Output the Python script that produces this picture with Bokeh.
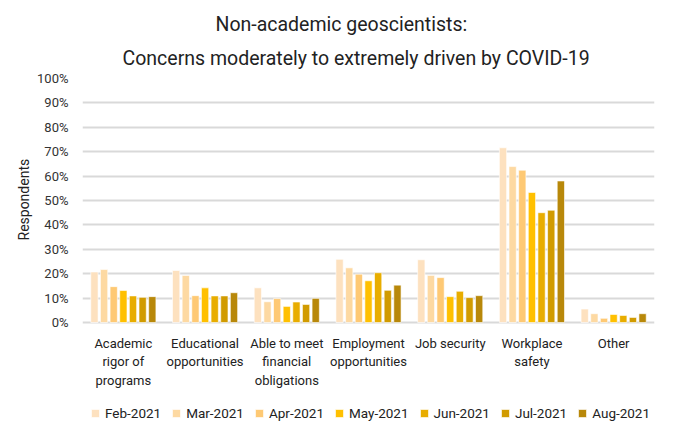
from bokeh.plotting import figure
from bokeh.models import Legend, LegendItem, Title, NumeralTickFormatter, FixedTicker, Range1d
from bokeh.core.properties import value
from bokeh.transform import dodge
from bokeh.embed import file_html
from bokeh.resources import INLINE

title_lines = ["Non-academic geoscientists:",
               "Concerns moderately to extremely driven by COVID-19"]
y_title = "Respondents"
categories = ["Academic rigor of programs", "Educational opportunities",
              "Able to meet financial obligations", "Employment opportunities",
              "Job security", "Workplace safety", "Other"]
category_labels = ["Academic\nrigor of\nprograms", "Educational\nopportunities",
                   "Able to meet\nfinancial\nobligations", "Employment\nopportunities",
                   "Job security", "Workplace\nsafety", "Other"]
months = ["Feb-2021", "Mar-2021", "Apr-2021", "May-2021", "Jun-2021", "Jul-2021", "Aug-2021"]
feb = [20.7, 21.3, 14.2, 25.9, 25.7, 71.6, 5.5]
mar = [21.7, 19.3, 8.5, 22.4, 19.3, 63.9, 3.6]
apr = [14.7, 11.0, 9.8, 19.8, 18.4, 62.4, 1.7]
may = [13.1, 14.2, 6.6, 17.1, 10.6, 53.3, 3.3]
jun = [10.9, 10.9, 8.4, 20.4, 12.8, 45.0, 2.9]
jul = [10.3, 10.9, 7.4, 13.2, 10.2, 46.0, 2.1]
aug = [10.6, 12.2, 9.9, 15.3, 11.0, 58.0, 3.6]
series = [feb, mar, apr, may, jun, jul, aug]
colors = ["#FDE1BF", "#FDD9A2", "#FEC974", "#FFC000", "#E8AD00", "#D19B00", "#B8880A"]

FONT = "Roboto"
PX = 1 / 244.0          # one pixel in y data units (0..100% spans 244px)
y_bottom = -101 * PX    # room below the axis for category labels and legend

p = figure(width=665, height=423, frame_width=572, frame_height=345,
           output_backend="svg", toolbar_location=None,
           x_range=Range1d(0, len(categories)), y_range=Range1d(y_bottom, 1))
p.min_border_left = 82
p.min_border_right = 11
p.min_border_top = 78
p.min_border_bottom = 0
p.outline_line_color = None

centers = [k + 0.5 for k in range(len(categories))]
data = {"x": centers, "label": category_labels}
for m, s in zip(months, series):
    data[m] = [v / 100 for v in s]

step = 0.118
items = []
for i, (m, c) in enumerate(zip(months, colors)):
    r = p.vbar(x=dodge("x", (i - 3) * step), top=m, width=0.089,
               source=data, fill_color=c, line_color="white", line_alpha=0.6, line_width=1)
    items.append(LegendItem(label=m, renderers=[r]))

# category labels below the 0% line
p.text(x="x", y=-13 * PX, text="label", source=data, text_align="center",
       text_baseline="top", text_font=value(FONT), text_font_size="13px",
       text_line_height=1.25, text_color="#222222")

p.title.text = title_lines[0]
p.title.align = "left"
p.title.offset = 133
p.title.standoff = 2
p.title.text_font = FONT
p.title.text_font_size = "19.5px"
p.title.text_font_style = "normal"
p.title.text_color = "#222222"
t2 = Title(text=title_lines[1], align="left", offset=40, standoff=17,
           text_font=FONT, text_font_size="19.5px", text_font_style="normal",
           text_color="#222222")
p.add_layout(t2, "above")

p.yaxis.ticker = FixedTicker(ticks=[i / 10 for i in range(11)])
p.yaxis.formatter = NumeralTickFormatter(format="0%")
p.yaxis.axis_line_color = None
p.yaxis.major_tick_line_color = None
p.yaxis.minor_tick_line_color = None
p.yaxis.major_tick_out = 0
p.yaxis.major_tick_in = 0
p.yaxis.major_label_standoff = 14
p.yaxis.major_label_text_font = FONT
p.yaxis.major_label_text_font_size = "13px"
p.yaxis.major_label_text_color = "#333333"

ty = Title(text=y_title, align="left", offset=183, standoff=6, text_font=FONT,
           text_font_size="14px", text_font_style="normal", text_color="#222222")
p.add_layout(ty, "left")

p.xaxis.visible = False
p.xgrid.grid_line_color = None
p.ygrid.ticker = FixedTicker(ticks=[i / 10 for i in range(11)])
p.ygrid.grid_line_color = "#D9D9D9"
p.ygrid.grid_line_width = 2

legend = Legend(items=items, orientation="horizontal", location=(8, 2),
                label_text_font=FONT, label_text_font_size="13.5px", label_text_color="#222222",
                glyph_width=10, glyph_height=10, label_standoff=5, spacing=10,
                border_line_color=None, background_fill_alpha=0, padding=0, margin=0)
p.add_layout(legend, "center")

open("out.html", "w").write(file_html(p, INLINE))
